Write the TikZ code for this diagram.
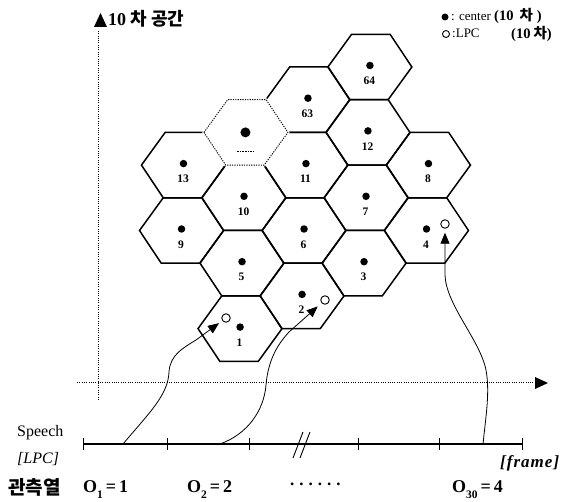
\documentclass[tikz,border=0pt]{standalone}
\usepackage{fontspec}
\setmainfont{Liberation Serif}
\newfontfamily\kr{Noto Sans CJK KR}
\usetikzlibrary{arrows.meta}
\newcommand\hexcell[3][]{\draw[#1] (#2-42,#3) -- ++(22.75,-32.7) -- ++(38.5,0) -- ++(22.75,32.7) -- ++(-22.75,32.7) -- ++(-38.5,0) -- cycle;}
\begin{document}
\begin{tikzpicture}[x=1pt,y=-1pt,
  hexline/.style={line width=1.5pt, line join=miter},
  ghostline/.style={line width=0.9pt, dash pattern=on 1.2pt off 1.2pt},
  cdot/.style={circle, fill=black, inner sep=0pt, minimum size=7.5pt},
  lpc/.style={circle, draw=black, line width=0.9pt, inner sep=0pt, minimum size=8.5pt},
  hexnum/.style={font=\fontsize{11.5}{11.5}\selectfont\bfseries, inner sep=0pt},
  axisdot/.style={line width=1pt, dash pattern=on 1pt off 1.3pt},
  obsarrow/.style={line width=0.8pt, -{Triangle[length=11pt,width=9pt]}},
  lbl/.style={inner sep=0pt, anchor=base west},
]
\useasboundingbox (0,0) rectangle (574,502);

% ---------- hexagon grid (slightly skewed like the scan) ----------
\begin{scope}[shift={(5.4,0)}, xslant=0.03]
\foreach \nm/\hx/\hy/\lab in {
  h64/366.5/67/64, h12/366.5/132.4/12, h7/366.5/197.8/7, h3/366.5/263.2/3,
  h63/305.5/99.7/63, h11/305.5/165.1/11, h6/305.5/230.5/6, h2/305.5/295.9/2,
  h10/244.5/197.8/10, h5/244.5/263.2/5, h1/244.5/328.6/1,
  h13/183/165.1/13, h9/183/230.5/9,
  h8/428/165.1/8, h4/428/230.5/4}{
  \hexcell[hexline]{\hx}{\hy}
  \node[cdot] (d-\nm) at (\hx,\hy-1.5) {};
  \node[hexnum] (n-\nm) at (\hx,\hy+14) {\lab};
}
% unknown (dotted) cell
\hexcell[white, line width=2.8pt]{244.5}{132.4}
\hexcell[ghostline]{244.5}{132.4}
\node[circle, fill=black, inner sep=0pt, minimum width=10pt, minimum height=7.5pt] (d-hx) at (244,132.4) {};
\coordinate (ul) at (236,152);
\coordinate (ur) at (253,152);
\draw[line width=1pt, dash pattern=on 1pt off 0.6pt] (ul) -- (ur);
\end{scope}

% ---------- LPC observation points ----------
\node[lpc] (c1) at (226,318) {};
\node[lpc] (c2) at (325,300) {};
\node[lpc] (c3) at (445,224) {};

% ---------- axes ----------
\coordinate (ytop) at (98,31);
\coordinate (ybot) at (98,400);
\draw[axisdot] (ytop) -- (ybot);
\fill (94,27) -- (100.5,13) -- (107,27) -- cycle;
\coordinate (xl) at (77,383);
\coordinate (xr) at (536,383);
\draw[axisdot] (xl) -- (xr);
\fill (535,377) -- (548,383) -- (535,389) -- cycle;

\node[lbl, font=\fontsize{18}{18}\selectfont\bfseries] (title) at (108,26) {10 {\kr 차 공간}};

% ---------- legend ----------
\node[cdot, minimum size=7pt] (ld) at (445,17) {};
\node[lbl, font=\fontsize{13}{13}\selectfont] (lt1) at (451,21) {: center};
\node[lbl, font=\fontsize{14.5}{14.5}\selectfont\bfseries] (lt1b) at (494,21) {(10\hspace{6pt}{\kr 차}\hspace{4pt})};
\node[lpc, minimum size=7pt] (lc) at (446,34) {};
\node[lbl, font=\fontsize{13}{13}\selectfont] (lt2) at (452,38) {:LPC};
\node[lbl, font=\fontsize{14.5}{14.5}\selectfont\bfseries] (lt2b) at (511,39) {(10\hspace{3pt}{\kr 차})};

% ---------- speech time axis ----------
\coordinate (t0) at (83,444);
\coordinate (t5) at (522,444);
\draw[line width=1.3pt] (t0) -- (t5);
\foreach \tx in {83,167,249,358,439,522}
  \draw[line width=0.9pt] (\tx,438) -- (\tx,450);
\draw[line width=0.9pt] (293,458) -- (303,432);
\draw[line width=0.9pt] (300,458) -- (310,432);

\coordinate (s1) at (123,444);
\coordinate (s2) at (220,444);
\coordinate (s3) at (483,444);

\draw[obsarrow, shorten >=4pt] (s1) .. controls (150,412) and (168,395) .. (169,372)
  .. controls (170,355) and (183,348) .. (196,340) -- (c1);
\draw[obsarrow, shorten >=5pt] (s2) .. controls (248,434) and (264,410) .. (266,385)
  .. controls (268,362) and (276,346) .. (289,332) -- (c2);
\draw[obsarrow, shorten >=4pt] (s3) .. controls (486,415) and (490,392) .. (486,370)
  .. controls (480,340) and (446,305) .. (445,275) -- (c3);

% ---------- labels ----------
\node[lbl, font=\fontsize{16}{16}\selectfont] (speech) at (17,437) {Speech};
\node[lbl, font=\fontsize{16}{16}\selectfont\itshape] (lpclab) at (17,464) {[LPC]};
\node[lbl, font=\fontsize{19}{19}\selectfont\bfseries] (obs) at (8,495) {\kr 관측열};
\node[lbl, font=\fontsize{18}{18}\selectfont\bfseries] (o1) at (83,493) {O\raisebox{-6pt}{\fontsize{11.5}{11.5}\selectfont 1}\,=\,1};
\node[lbl, font=\fontsize{18}{18}\selectfont\bfseries] (o2) at (187,493) {O\raisebox{-6pt}{\fontsize{11.5}{11.5}\selectfont 2}\,=\,2};
\node[lbl, font=\fontsize{17}{17}\selectfont\bfseries] (dots) at (290,486) {.\hspace{5pt}.\hspace{5pt}.\hspace{5pt}.\hspace{5pt}.\hspace{5pt}.};
\node[lbl, font=\fontsize{18}{18}\selectfont\bfseries] (o30) at (452,493) {O\raisebox{-6pt}{\fontsize{11.5}{11.5}\selectfont 30}\,=\,4};
\node[lbl, font=\fontsize{17}{17}\selectfont\bfseries\itshape\addfontfeature{LetterSpace=6}] (frame) at (500,468) {[frame]};
\end{tikzpicture}
\end{document}
